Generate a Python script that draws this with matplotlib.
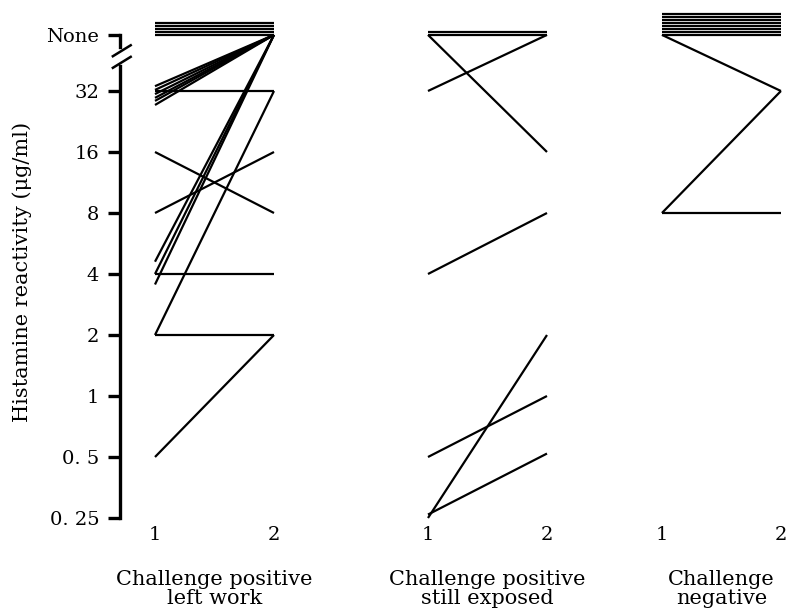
import numpy as np
import matplotlib.pyplot as plt
from matplotlib.transforms import blended_transform_factory

plt.rcParams['font.family'] = ['DejaVu Serif']

NONE = 'None'

group_names = ['Challenge positive\nleft work', 'Challenge positive\nstill exposed', 'Challenge\nnegative']

# histamine reactivity at test 1 and test 2, one entry per subject
left_work_1 = [NONE] * 5 + [33.8, 32.4, 30.9, 29.6, 28.6, 27.3] + [32, 16, 8, 4.6, 4.0, 3.55, 4, 2, 2, 0.5]
left_work_2 = [NONE] * 5 + [NONE] * 6 + [32, 8, 16, NONE, NONE, NONE, 4, 2, 32, 2]

exposed_1 = [NONE, NONE, NONE, 32, 4, 0.5, 0.25, 0.26]
exposed_2 = [NONE, NONE, 16, NONE, 8, 1, 2, 0.52]

negative_1 = [NONE] * 8 + [NONE, 8, 8]
negative_2 = [NONE] * 8 + [32, 32, 8]

tick_values = [0.25, 0.5, 1, 2, 4, 8, 16, 32]
tick_labels = ['0. 25', '0. 5', '1', '2', '4', '8', '16', '32', 'None']

groups = [(left_work_1, left_work_2), (exposed_1, exposed_2), (negative_1, negative_2)]
group_shift = [0, 2.294, 4.26]

none_y = 5.92    # where "None" sits on the log2 axis
stack_gap = 0.05  # spacing of repeated None-None lines


def to_y(v, k):
    if v == NONE:
        return none_y + k * stack_gap
    return np.log2(v)


fig = plt.figure(figsize=(7.88, 6.10), dpi=100)
ax = fig.add_axes([120 / 788, 1 - 518 / 610, 668 / 788, 508 / 610])
x_left = 1 - 35 / 119
ax.set_xlim(x_left, x_left + 668 / 119)
ax.set_ylim(-2, -2 + 508 / 61)

for (t1, t2), dx in zip(groups, group_shift):
    k = 0
    for a, b in zip(t1, t2):
        both_none = a == NONE and b == NONE
        kk = k if both_none else 0
        ax.plot([1 + dx, 2 + dx], [to_y(a, kk), to_y(b, kk)], color='black', lw=1.6,
                solid_capstyle='butt', clip_on=False)
        if both_none:
            k += 1

# left axis with a break below "None"
for s in ['top', 'right', 'bottom']:
    ax.spines[s].set_visible(False)
ax.spines['left'].set_linewidth(2.4)
ax.spines['left'].set_bounds(-2, 5.41)
ax.plot([x_left, x_left], [5.72, none_y], color='black', lw=2.4, clip_on=False)
for yb in [5.47, 5.66]:
    ax.plot([x_left - 0.06, x_left + 0.09], [yb - 0.09, yb + 0.09], color='black', lw=1.8, clip_on=False)

ax.set_yticks(list(np.log2(tick_values)) + [none_y])
ax.set_yticklabels(tick_labels, fontsize=14)
ax.tick_params(axis='y', length=9, width=2.4, pad=6)

xt = []
for dx in group_shift:
    xt += [1 + dx, 2 + dx]
ax.set_xticks(xt)
ax.set_xticklabels(['1', '2'] * 3, fontsize=14)
ax.tick_params(axis='x', length=0, pad=6)

tr = blended_transform_factory(ax.transData, fig.transFigure)
for name, dx in zip(group_names, group_shift):
    ax.text(1.5 + dx, 1 - 589 / 610, name, transform=tr, ha='center', va='center',
            fontsize=15, linespacing=1.05)

fig.text(22 / 788, 1 - 272 / 610, 'Histamine reactivity (μg/ml)', rotation=90,
         ha='center', va='center', fontsize=15)

fig.savefig('out.png', dpi=100)
